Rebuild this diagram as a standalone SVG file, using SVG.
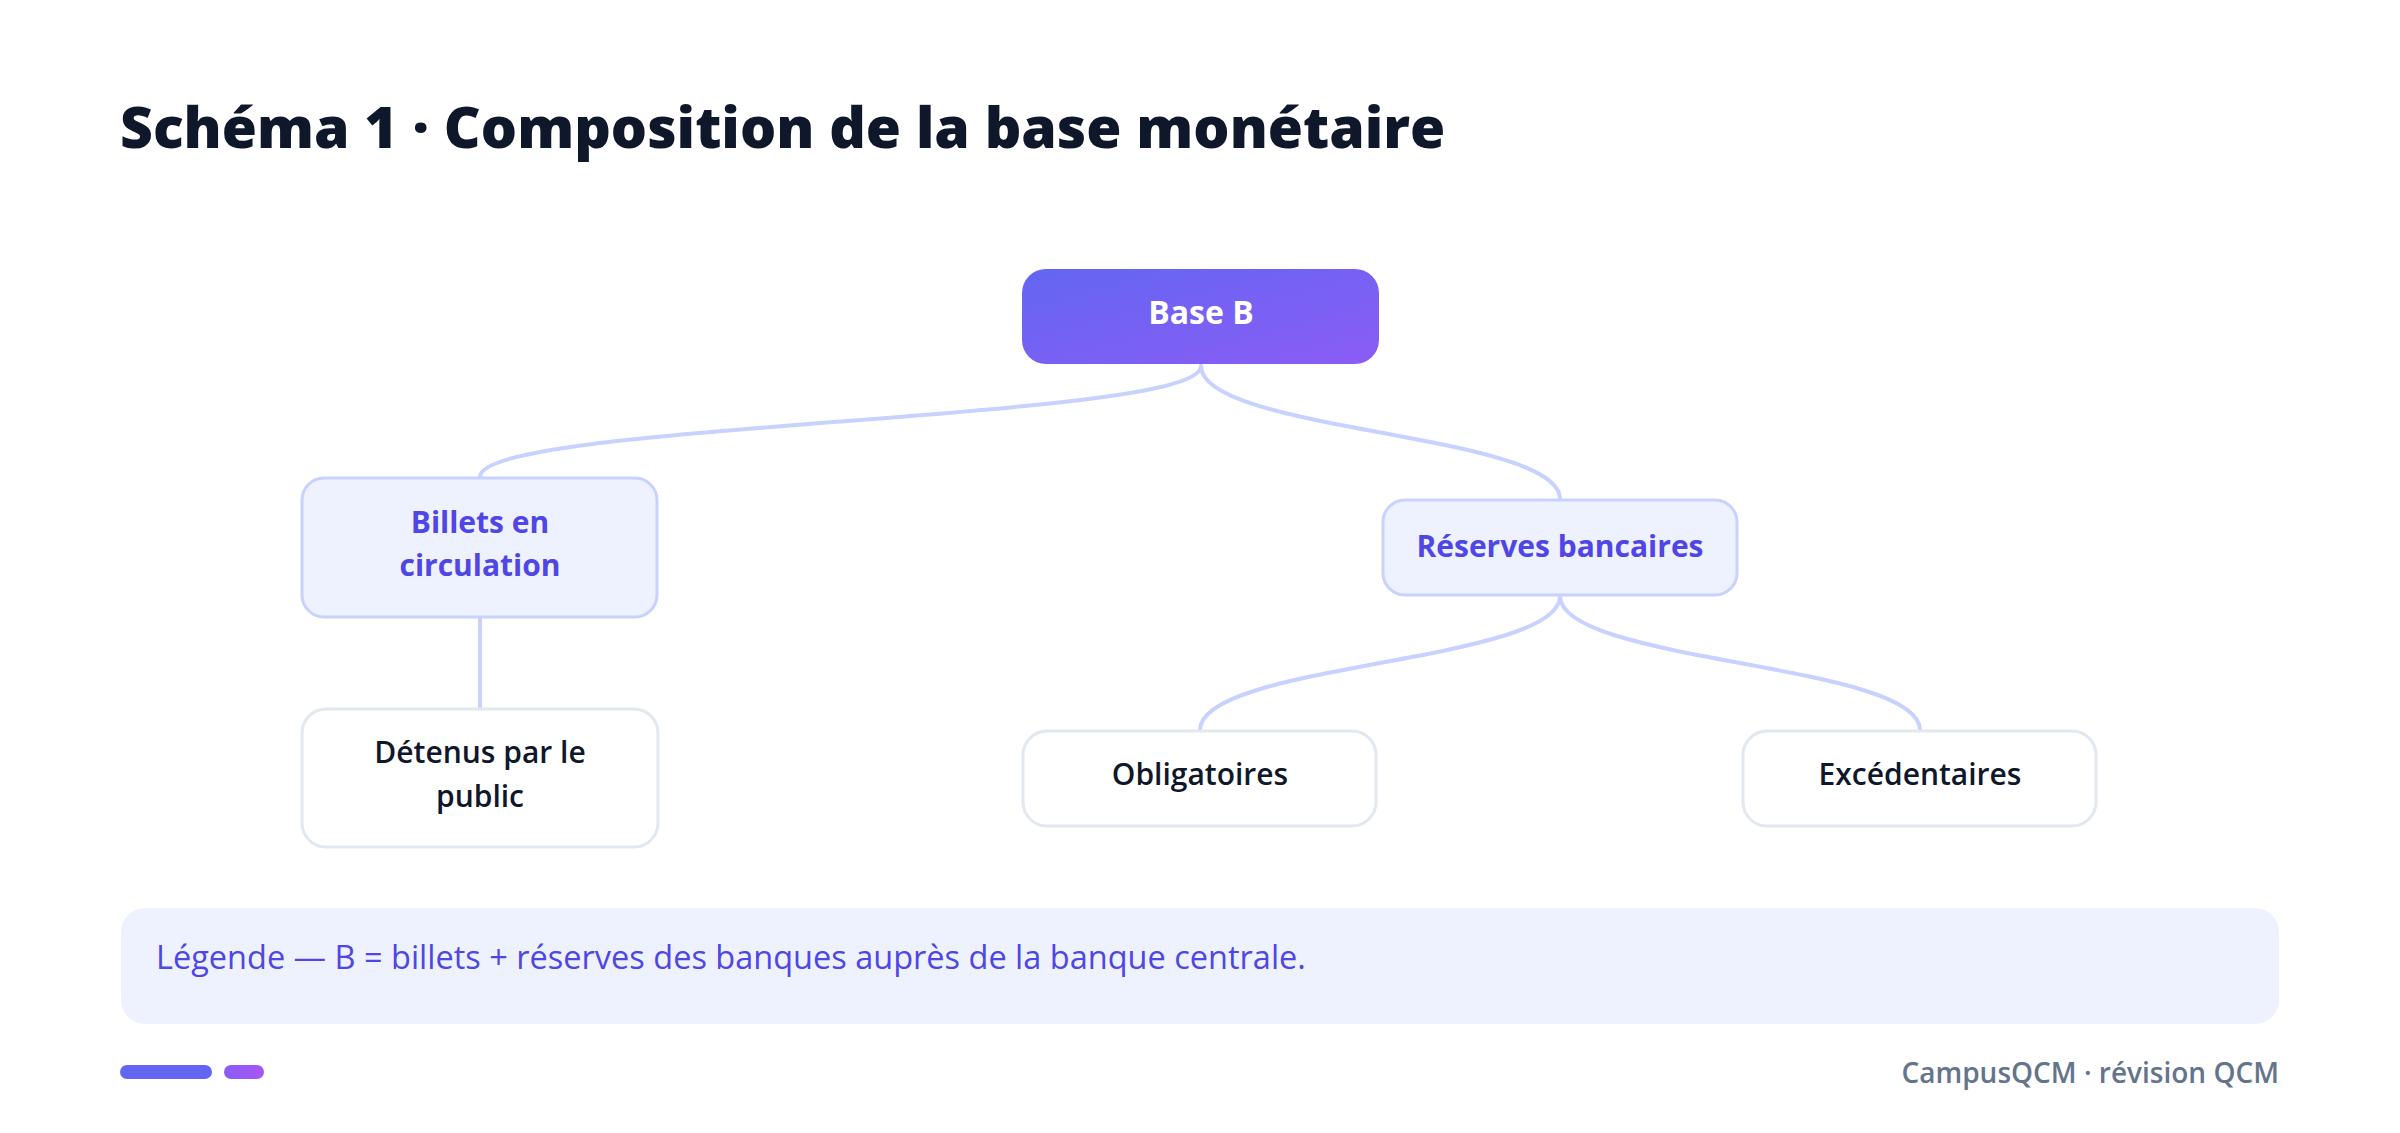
<svg xmlns="http://www.w3.org/2000/svg" width="2400" height="1133" viewBox="0 0 2400 1133">
<defs>
<linearGradient id="gBase" x1="0" y1="0" x2="1" y2="1">
<stop offset="0" stop-color="#6366f1"/>
<stop offset="1" stop-color="#8b5cf6"/>
</linearGradient>
<linearGradient id="gBar" x1="0" y1="0" x2="1" y2="0">
<stop offset="0" stop-color="#8b5cf6"/>
<stop offset="1" stop-color="#a855f7"/>
</linearGradient>
<style>
text{font-family:"Open Sans","Noto Sans","Liberation Sans",sans-serif}
.title{font-size:57px;font-weight:800;fill:#0f172a}
.conn{fill:none;stroke:#c7d2fe;stroke-width:4;stroke-linecap:round}
.mid rect{fill:#eef2ff;stroke:#c7d2fe;stroke-width:3}
.mid text{font-size:30px;font-weight:700;fill:#4f46e5;text-anchor:middle}
.leaf rect{fill:#ffffff;stroke:#e2e8f0;stroke-width:3}
.leaf text{font-size:30px;font-weight:600;fill:#0f172a;text-anchor:middle}
.legend{font-size:32.5px;fill:#4f46e5}
.footer{font-size:28px;font-weight:600;fill:#64748b;text-anchor:end}
</style>
</defs>
<rect width="2400" height="1133" fill="#ffffff"/>
<text class="title" x="120" y="148">Schéma 1 · Composition de la base monétaire</text>
<g id="connectors">
<path class="conn" d="M1201,366 C1201,422 480,421 480,477"/>
<path class="conn" d="M1201,366 C1201,432 1560,433 1560,499"/>
<path class="conn" d="M480,618 L480,708"/>
<path class="conn" d="M1560,596 C1560,663 1200,663 1200,730"/>
<path class="conn" d="M1560,596 C1560,663 1920,663 1920,730"/>
</g>
<g id="node-base">
<rect x="1022" y="269" width="357" height="95" rx="24" fill="url(#gBase)"/>
<text x="1201" y="324" font-size="32" font-weight="700" fill="#ffffff" text-anchor="middle">Base B</text>
</g>
<g id="node-billets" class="mid">
<rect x="302" y="478" width="355" height="139" rx="22"/>
<text x="480" y="533">Billets en</text>
<text x="480" y="576">circulation</text>
</g>
<g id="node-reserves" class="mid">
<rect x="1383" y="500" width="354" height="95" rx="22"/>
<text x="1560" y="557">Réserves bancaires</text>
</g>
<g id="node-detenus" class="leaf">
<rect x="302" y="709" width="356" height="138" rx="24"/>
<text x="480" y="763">Détenus par le</text>
<text x="480" y="807">public</text>
</g>
<g id="node-obligatoires" class="leaf">
<rect x="1023" y="731" width="353" height="95" rx="24"/>
<text x="1200" y="785">Obligatoires</text>
</g>
<g id="node-excedentaires" class="leaf">
<rect x="1743" y="731" width="353" height="95" rx="24"/>
<text x="1920" y="785">Excédentaires</text>
</g>
<g id="legend">
<rect x="121" y="908" width="2158" height="116" rx="24" fill="#eef2ff"/>
<text class="legend" x="156" y="969">Légende — B = billets + réserves des banques auprès de la banque centrale.</text>
</g>
<g id="footer">
<rect x="120" y="1065" width="92" height="14" rx="7" fill="#6366f1"/>
<rect x="224" y="1065" width="40" height="14" rx="7" fill="url(#gBar)"/>
<text class="footer" x="2279" y="1083">CampusQCM · révision QCM</text>
</g>
</svg>
